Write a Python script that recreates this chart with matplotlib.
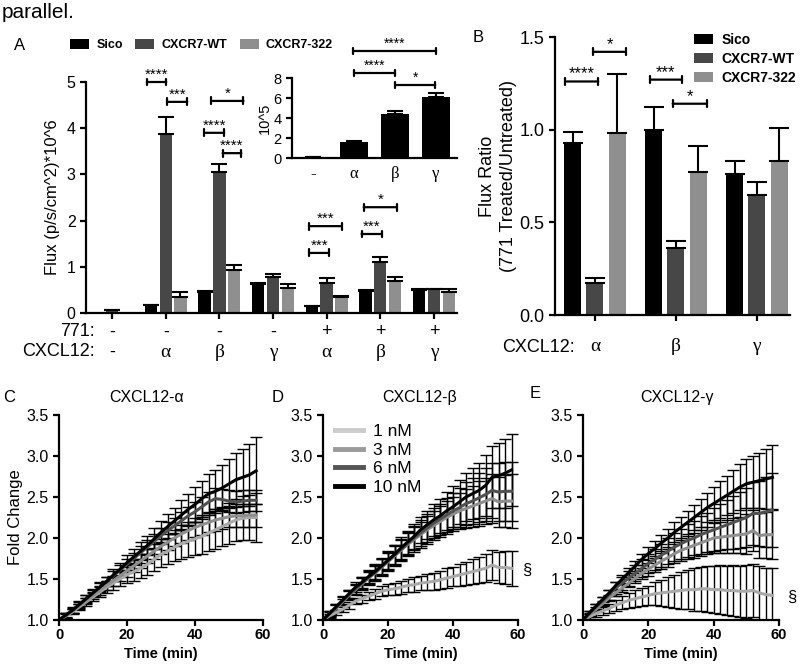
import matplotlib
matplotlib.use("Agg")
import matplotlib.pyplot as plt
import numpy as np

plt.rcParams['font.family'] = ['Liberation Sans', 'DejaVu Sans']
SERIF = ['Liberation Serif', 'DejaVu Serif']

W, H = 800, 666

# ---- panel A data ----
ligand_A = ['-', 'α', 'β', 'γ', 'α', 'β', 'γ']
treat_771 = ['-', '-', '-', '-', '+', '+', '+']
sico_A = [np.nan, 0.17, 0.45, 0.63, 0.15, 0.47, 0.49]
sico_A_err = [0, 0.01, 0.02, 0.02, 0.01, 0.03, 0.02]
wt_A = [0.06, 3.87, 3.05, 0.78, 0.65, 1.10, 0.51]
wt_A_err = [0.01, 0.37, 0.17, 0.06, 0.11, 0.12, 0.02]
r322_A = [np.nan, 0.35, 0.93, 0.55, 0.34, 0.69, 0.45]
r322_A_err = [0, 0.11, 0.11, 0.08, 0.02, 0.09, 0.08]
stars_A = [("****", 0.65, 1.01, 5.0), ("***", 1.03, 1.40, 4.57),
           ("*", 1.85, 2.45, 4.59), ("****", 1.72, 2.09, 3.9),
           ("****", 2.06, 2.41, 3.46), ("***", 3.68, 4.28, 1.88),
           ("***", 3.68, 4.04, 1.30), ("*", 4.69, 5.31, 2.29),
           ("***", 4.65, 5.03, 1.71)]

# inset (10^5)
inset_labels = ['-', 'α', 'β', 'γ']
inset_vals = [0.06, 1.65, 4.45, 6.15]
inset_err = [0.01, 0.05, 0.25, 0.38]
stars_inset = [("****", 0.98, 3.0, 10.7), ("****", 1.0, 2.0, 8.5), ("*", 2.0, 2.98, 7.3)]

# ---- panel B data ----
ligand_B = ['α', 'β', 'γ']
sico_B = [0.93, 1.00, 0.76]
sico_B_err = [0.06, 0.12, 0.07]
wt_B = [0.17, 0.36, 0.65]
wt_B_err = [0.03, 0.04, 0.07]
r322_B = [0.98, 0.77, 0.83]
r322_B_err = [0.32, 0.14, 0.18]
stars_B = [("****", -0.37, 0.04, 1.26), ("*", -0.02, 0.38, 1.42),
           ("***", 0.68, 1.07, 1.27), ("*", 0.96, 1.38, 1.14)]

# ---- panels C-E data ----
times = [0, 2, 4, 6, 8, 10, 12, 14, 16, 18, 20, 22, 24, 26, 28,
         30, 32, 34, 36, 38, 40, 42, 44, 46, 48, 50, 52, 54, 56, 58]
doses = ['1 nM', '3 nM', '6 nM', '10 nM']
dose_colors = ['#a9a9a9', '#8e8e8e', '#505050', '#000000']
legend_colors = ['#cccccc', '#9a9a9a', '#555555', '#000000']

alpha_mean = [
    [1.00, 1.05, 1.10, 1.16, 1.22, 1.28, 1.34, 1.40, 1.45, 1.50, 1.55, 1.59, 1.63, 1.68, 1.74,
     1.80, 1.84, 1.89, 1.93, 1.96, 1.99, 2.02, 2.06, 2.10, 2.14, 2.18, 2.22, 2.24, 2.25, 2.25],
    [1.00, 1.05, 1.11, 1.17, 1.23, 1.30, 1.36, 1.42, 1.48, 1.54, 1.60, 1.66, 1.72, 1.78, 1.84,
     1.90, 1.95, 2.00, 2.05, 2.09, 2.13, 2.16, 2.19, 2.22, 2.24, 2.26, 2.27, 2.27, 2.28, 2.28],
    [1.00, 1.06, 1.12, 1.19, 1.26, 1.33, 1.40, 1.47, 1.54, 1.61, 1.68, 1.75, 1.82, 1.89, 1.96,
     2.03, 2.09, 2.15, 2.21, 2.27, 2.32, 2.38, 2.44, 2.48, 2.47, 2.45, 2.44, 2.45, 2.46, 2.46],
    [1.00, 1.06, 1.12, 1.19, 1.26, 1.33, 1.40, 1.47, 1.55, 1.62, 1.70, 1.77, 1.84, 1.91, 1.99,
     2.07, 2.14, 2.21, 2.28, 2.35, 2.41, 2.48, 2.54, 2.57, 2.61, 2.66, 2.71, 2.74, 2.77, 2.82],
]
alpha_err = [
    [0.02, 0.03, 0.03, 0.04, 0.05, 0.05, 0.06, 0.07, 0.08, 0.09, 0.10, 0.11, 0.12, 0.13, 0.14,
     0.15, 0.16, 0.17, 0.18, 0.19, 0.20, 0.21, 0.22, 0.23, 0.24, 0.25, 0.26, 0.27, 0.28, 0.30],
    [0.02, 0.02, 0.03, 0.03, 0.04, 0.04, 0.05, 0.05, 0.06, 0.06, 0.07, 0.07, 0.08, 0.08, 0.09,
     0.09, 0.10, 0.10, 0.11, 0.11, 0.12, 0.12, 0.12, 0.13, 0.13, 0.13, 0.14, 0.14, 0.14, 0.14],
    [0.02, 0.02, 0.03, 0.03, 0.04, 0.04, 0.05, 0.05, 0.06, 0.06, 0.07, 0.07, 0.08, 0.08, 0.09,
     0.09, 0.10, 0.10, 0.11, 0.11, 0.12, 0.12, 0.12, 0.13, 0.13, 0.13, 0.13, 0.13, 0.13, 0.13],
    [0.02, 0.03, 0.04, 0.04, 0.05, 0.05, 0.06, 0.06, 0.07, 0.08, 0.09, 0.10, 0.11, 0.12, 0.13,
     0.14, 0.15, 0.16, 0.18, 0.19, 0.21, 0.22, 0.24, 0.26, 0.28, 0.30, 0.33, 0.35, 0.38, 0.41],
]

beta_mean = [
    [1.00, 1.05, 1.09, 1.13, 1.18, 1.23, 1.26, 1.29, 1.32, 1.35, 1.37, 1.38, 1.40, 1.42, 1.43,
     1.45, 1.46, 1.47, 1.49, 1.51, 1.53, 1.55, 1.57, 1.59, 1.61, 1.63, 1.67, 1.64, 1.64, 1.63],
    [1.00, 1.07, 1.14, 1.22, 1.30, 1.37, 1.44, 1.51, 1.57, 1.64, 1.71, 1.78, 1.85, 1.92, 1.98,
     2.04, 2.10, 2.15, 2.20, 2.25, 2.29, 2.33, 2.36, 2.39, 2.42, 2.45, 2.48, 2.44, 2.45, 2.45],
    [1.00, 1.08, 1.15, 1.23, 1.31, 1.38, 1.45, 1.52, 1.58, 1.65, 1.72, 1.79, 1.86, 1.93, 2.00,
     2.06, 2.12, 2.18, 2.23, 2.28, 2.33, 2.37, 2.42, 2.45, 2.49, 2.53, 2.58, 2.56, 2.57, 2.57],
    [1.00, 1.08, 1.16, 1.24, 1.32, 1.40, 1.46, 1.53, 1.59, 1.66, 1.73, 1.80, 1.88, 1.95, 2.02,
     2.10, 2.16, 2.22, 2.27, 2.33, 2.38, 2.44, 2.50, 2.54, 2.58, 2.64, 2.74, 2.76, 2.79, 2.83],
]
beta_err = [
    [0.02, 0.02, 0.03, 0.03, 0.04, 0.04, 0.05, 0.05, 0.06, 0.06, 0.07, 0.07, 0.08, 0.08, 0.09,
     0.09, 0.10, 0.10, 0.11, 0.12, 0.12, 0.13, 0.14, 0.15, 0.16, 0.17, 0.18, 0.19, 0.20, 0.21],
    [0.02, 0.03, 0.04, 0.04, 0.05, 0.06, 0.07, 0.08, 0.09, 0.10, 0.11, 0.12, 0.13, 0.14, 0.15,
     0.16, 0.17, 0.18, 0.19, 0.20, 0.21, 0.22, 0.24, 0.25, 0.27, 0.28, 0.30, 0.31, 0.32, 0.33],
    [0.02, 0.03, 0.04, 0.05, 0.05, 0.06, 0.07, 0.08, 0.09, 0.10, 0.11, 0.12, 0.13, 0.14, 0.15,
     0.16, 0.17, 0.18, 0.19, 0.21, 0.22, 0.24, 0.26, 0.28, 0.30, 0.32, 0.34, 0.35, 0.36, 0.36],
    [0.02, 0.03, 0.04, 0.05, 0.05, 0.06, 0.07, 0.08, 0.09, 0.10, 0.11, 0.12, 0.13, 0.14, 0.15,
     0.16, 0.17, 0.19, 0.21, 0.23, 0.25, 0.27, 0.29, 0.31, 0.34, 0.37, 0.38, 0.40, 0.42, 0.44],
]

gamma_mean = [
    [1.00, 1.04, 1.08, 1.11, 1.14, 1.18, 1.21, 1.24, 1.26, 1.28, 1.30, 1.32, 1.33, 1.34, 1.35,
     1.36, 1.37, 1.37, 1.38, 1.38, 1.37, 1.37, 1.36, 1.36, 1.35, 1.35, 1.36, 1.33, 1.31, 1.30],
    [1.00, 1.07, 1.13, 1.20, 1.27, 1.33, 1.39, 1.45, 1.51, 1.57, 1.62, 1.67, 1.72, 1.76, 1.81,
     1.85, 1.88, 1.91, 1.94, 1.97, 2.00, 2.01, 2.02, 2.03, 2.04, 2.05, 2.09, 2.03, 2.04, 2.04],
    [1.00, 1.08, 1.16, 1.23, 1.31, 1.39, 1.45, 1.51, 1.57, 1.63, 1.69, 1.74, 1.79, 1.84, 1.89,
     1.93, 1.97, 2.00, 2.04, 2.07, 2.10, 2.13, 2.16, 2.19, 2.22, 2.25, 2.30, 2.30, 2.32, 2.34],
    [1.00, 1.09, 1.17, 1.25, 1.33, 1.42, 1.50, 1.58, 1.66, 1.74, 1.81, 1.87, 1.94, 2.00, 2.07,
     2.13, 2.19, 2.25, 2.31, 2.37, 2.42, 2.47, 2.52, 2.57, 2.62, 2.66, 2.68, 2.70, 2.72, 2.74],
]
gamma_err = [
    [0.02, 0.03, 0.04, 0.05, 0.06, 0.07, 0.08, 0.09, 0.10, 0.11, 0.12, 0.14, 0.16, 0.18, 0.20,
     0.22, 0.24, 0.26, 0.27, 0.28, 0.29, 0.30, 0.30, 0.31, 0.31, 0.32, 0.32, 0.33, 0.33, 0.34],
    [0.02, 0.02, 0.03, 0.03, 0.04, 0.04, 0.05, 0.05, 0.06, 0.07, 0.08, 0.09, 0.10, 0.11, 0.12,
     0.13, 0.14, 0.15, 0.16, 0.17, 0.18, 0.19, 0.20, 0.21, 0.22, 0.24, 0.25, 0.27, 0.28, 0.30],
    [0.02, 0.03, 0.04, 0.05, 0.06, 0.07, 0.08, 0.09, 0.10, 0.11, 0.12, 0.13, 0.14, 0.16, 0.17,
     0.18, 0.20, 0.21, 0.23, 0.24, 0.26, 0.28, 0.30, 0.32, 0.34, 0.36, 0.38, 0.40, 0.43, 0.45],
    [0.02, 0.02, 0.03, 0.03, 0.04, 0.04, 0.05, 0.05, 0.06, 0.07, 0.08, 0.09, 0.10, 0.11, 0.12,
     0.13, 0.14, 0.15, 0.17, 0.18, 0.20, 0.22, 0.24, 0.26, 0.28, 0.30, 0.32, 0.34, 0.37, 0.39],
]

bar_colors = ['#000000', '#474747', '#8f8f8f']
bar_names = ['Sico', 'CXCR7-WT', 'CXCR7-322']


def rect(x0, y0, x1, y1):
    return [x0 / W, 1 - y1 / H, (x1 - x0) / W, (y1 - y0) / H]


def style_axes(ax, lw=1.6):
    for s in ['top', 'right']:
        ax.spines[s].set_visible(False)
    for s in ['left', 'bottom']:
        ax.spines[s].set_linewidth(lw)
    ax.tick_params(direction='out', width=lw, length=4)


def bracket(ax, x1, x2, y, text, fs):
    ax.annotate('', xy=(x1, y), xytext=(x2, y), annotation_clip=False,
                arrowprops=dict(arrowstyle='|-|,widthA=0.25,widthB=0.25', lw=1.6,
                                color='k', shrinkA=0, shrinkB=0))
    ax.text((x1 + x2) / 2, y, text, ha='center', va='bottom', fontsize=fs, clip_on=False)


def grouped_bars(ax, series, errs, offset, width, capsize):
    x = np.arange(len(series[0]))
    handles = []
    for i in range(3):
        low = np.zeros(len(errs[i]))
        b = ax.bar(x + (i - 1) * offset, series[i], width, color=bar_colors[i],
                   yerr=[low, errs[i]], capsize=capsize, label=bar_names[i],
                   error_kw=dict(elinewidth=1.5, capthick=1.5, ecolor='k'))
        handles.append(b)
    return handles


fig = plt.figure(figsize=(W / 100, H / 100), dpi=100)
fig.text(2 / W, 1 - 12 / H, 'parallel.', fontsize=15, va='center', ha='left')

# ================= Panel A =================
axA = fig.add_axes(rect(86, 82, 457, 313))
hA = grouped_bars(axA, [sico_A, wt_A, r322_A], [sico_A_err, wt_A_err, r322_A_err], 0.275, 0.23, 6)
style_axes(axA)
axA.set_xlim(-0.486, 6.43)
axA.set_ylim(0, 5)
axA.set_yticks([0, 1, 2, 3, 4, 5])
axA.tick_params(axis='y', labelsize=11.5)
axA.set_xticks(range(len(ligand_A)))
axA.set_xticklabels([''] * len(ligand_A))
axA.set_ylabel('Flux (p/s/cm^2)*10^6', fontsize=12)
axA.yaxis.set_label_coords(-0.07, 0.5)
tr = axA.get_xaxis_transform()
for i in range(len(ligand_A)):
    axA.text(i, -0.082, treat_771[i], transform=tr, ha='center', va='center', fontsize=13)
    if ligand_A[i] == '-':
        axA.text(i, -0.169, ligand_A[i], transform=tr, ha='center', va='center', fontsize=13)
    else:
        axA.text(i, -0.169, ligand_A[i], transform=tr, ha='center', va='center',
                 fontsize=14, family=SERIF)
fig.text(95 / W, 1 - 332 / H, '771:', ha='right', va='center', fontsize=13)
fig.text(95 / W, 1 - 352 / H, 'CXCL12:', ha='right', va='center', fontsize=13)
for s in stars_A:
    bracket(axA, s[1], s[2], s[3], s[0], 11)
fig.legend(hA, bar_names, loc='center left', bbox_to_anchor=(70 / W, 1 - 45 / H),
           ncol=3, frameon=False, handlelength=1.5, handleheight=0.8,
           handletextpad=0.6, columnspacing=1.0, borderpad=0, borderaxespad=0,
           prop=dict(weight='bold', size=9))
fig.text(20 / W, 1 - 45 / H, 'A', fontsize=12, ha='center', va='center')

# inset
axI = fig.add_axes(rect(292, 78, 457, 158))
axI.patch.set_alpha(0)
axI.bar(range(len(inset_vals)), inset_vals, 0.7, color='k',
        yerr=[np.zeros(len(inset_err)), inset_err], capsize=6,
        error_kw=dict(elinewidth=1.5, capthick=1.5, ecolor='k'))
style_axes(axI)
axI.set_xlim(-0.51, 3.51)
axI.set_ylim(0, 8)
axI.set_yticks([0, 2, 4, 6, 8])
axI.tick_params(axis='y', labelsize=10.5)
axI.tick_params(axis='x', length=0, pad=6)
axI.set_xticks(range(len(inset_labels)))
axI.set_xticklabels(inset_labels, family=SERIF, fontsize=12)
axI.set_ylabel('10^5', fontsize=10.5)
axI.yaxis.set_label_coords(-0.12, 0.5)
for s in stars_inset:
    bracket(axI, s[1], s[2], s[3], s[0], 10)

# ================= Panel B =================
axB = fig.add_axes(rect(555, 37, 790, 315))
hB = grouped_bars(axB, [sico_B, wt_B, r322_B], [sico_B_err, wt_B_err, r322_B_err], 0.275, 0.21, 7)
style_axes(axB)
axB.set_xlim(-0.494, 2.41)
axB.set_ylim(0, 1.5)
axB.set_yticks([0.0, 0.5, 1.0, 1.5])
axB.set_yticklabels(['0.0', '0.5', '1.0', '1.5'])
axB.tick_params(axis='y', labelsize=13)
axB.set_xticks(range(len(ligand_B)))
axB.set_xticklabels([''] * len(ligand_B))
axB.set_ylabel('Flux Ratio\n(771 Treated/Untreated)', fontsize=13, linespacing=1.3)
axB.yaxis.set_label_coords(-0.16, 0.5)
trB = axB.get_xaxis_transform()
for i in range(len(ligand_B)):
    axB.text(i, -0.115, ligand_B[i], transform=trB, ha='center', va='center',
             fontsize=14, family=SERIF)
fig.text(502 / W, 1 - 347 / H, 'CXCL12:', ha='left', va='center', fontsize=13)
for s in stars_B:
    bracket(axB, s[1], s[2], s[3], s[0], 12)
axB.legend(hB, bar_names, loc='upper left', bbox_to_anchor=(694 / W, 1 - 33 / H),
           bbox_transform=fig.transFigure, frameon=False, handlelength=1.4,
           handleheight=0.7, handletextpad=0.6, labelspacing=0.35, borderpad=0,
           borderaxespad=0, prop=dict(weight='bold', size=10))
fig.text(478 / W, 1 - 38 / H, 'B', fontsize=12, ha='center', va='center')

# ================= Panels C-E =================
panels = [
    ('C', 'CXCL12-α', alpha_mean, alpha_err, rect(59, 415, 263, 620), (9, 397), 147, None),
    ('D', 'CXCL12-β', beta_mean, beta_err, rect(323, 415, 518, 620), (278, 397), 420, (61.2, 1.61)),
    ('E', 'CXCL12-γ', gamma_mean, gamma_err, rect(583, 415, 779, 620), (535, 393), 677, (62.4, 1.28)),
]
for letter, title, means, errs, r, lpos, tx, sect in panels:
    ax = fig.add_axes(r)
    for k in range(len(doses)):
        ax.errorbar(times, means[k], yerr=errs[k], color=dose_colors[k], lw=2.2,
                    ecolor='k', elinewidth=1.0, capsize=4, capthick=1.0, label=doses[k])
    style_axes(ax)
    ax.set_xlim(0, 60)
    ax.set_ylim(1.0, 3.5)
    ax.set_xticks([0, 20, 40, 60])
    ax.set_yticks([1.0, 1.5, 2.0, 2.5, 3.0, 3.5])
    ax.set_yticklabels(['1.0', '1.5', '2.0', '2.5', '3.0', '3.5'])
    ax.tick_params(axis='y', labelsize=11.5)
    ax.tick_params(axis='x', labelsize=10.5, pad=1.5)
    for t in ax.get_xticklabels():
        t.set_fontweight('bold')
    ax.set_xlabel('Time (min)', fontsize=10.5, fontweight='bold')
    ax.xaxis.set_label_coords(0.5, -0.13)
    if letter == 'C':
        ax.set_ylabel('Fold Change', fontsize=12)
        ax.yaxis.set_label_coords(-0.176, 0.5)
    if letter == 'D':
        ax.legend([plt.Line2D([], [], color=c, lw=3.5) for c in legend_colors], doses,
                  loc='upper left', bbox_to_anchor=(335 / W, 1 - 424 / H),
                  bbox_transform=fig.transFigure, frameon=False, handlelength=1.6,
                  handletextpad=0.6, labelspacing=0.2, borderpad=0, borderaxespad=0,
                  fontsize=12.5)
    if sect is not None:
        ax.text(sect[0], sect[1], '§', fontsize=12, ha='left', va='center', clip_on=False)
    fig.text(tx / W, 1 - 397 / H, title, fontsize=11.5, ha='center', va='center')
    fig.text(lpos[0] / W, 1 - lpos[1] / H, letter, fontsize=12, ha='center', va='center')

plt.savefig('out.png', dpi=100)
